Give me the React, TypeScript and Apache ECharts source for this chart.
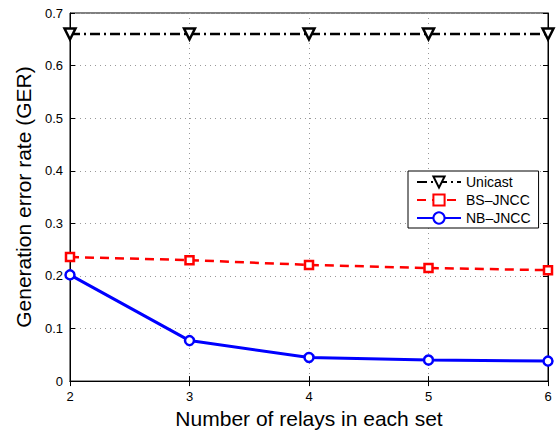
import React, { useEffect, useRef } from "react";
import * as echarts from "echarts";

const relays = [2, 3, 4, 5, 6];
const unicast = [0.66, 0.66, 0.66, 0.66, 0.66];
const bsJncc = [0.236, 0.23, 0.221, 0.215, 0.211];
const nbJncc = [0.202, 0.077, 0.045, 0.04, 0.038];

const FONT = "Liberation Sans, Arial, Helvetica, sans-serif";

export default function App() {
  const ref = useRef<HTMLDivElement>(null);
  useEffect(() => {
    if (!ref.current) return;
    const chart = echarts.init(ref.current, undefined, { renderer: "svg" });
    const pair = (ys: number[]) => relays.map((x, i) => [x, ys[i]]);
    const axisCommon = {
      axisLine: { show: true, lineStyle: { color: "#000", width: 1 } },
      axisTick: { show: true, inside: true, length: 5, lineStyle: { color: "#000" } },
    };
    chart.setOption({
      animation: false,
      backgroundColor: "#fff",
      textStyle: { fontFamily: FONT },
      grid: { left: 70, right: 10, top: 13, bottom: 49, show: true, borderColor: "#000", borderWidth: 1, backgroundColor: "#fff" },
      legend: {
        orient: "vertical",
        left: 408,
        top: 171,
        width: 130,
        backgroundColor: "#fff",
        borderColor: "#000",
        borderWidth: 1,
        borderRadius: 0,
        padding: [4, 8, 3, 8],
        itemWidth: 44,
        itemHeight: 14,
        itemGap: 4,
        textStyle: { fontFamily: FONT, fontSize: 14, color: "#000" },
        data: ["Unicast", "BS\u2013JNCC", "NB\u2013JNCC"],
      },
      xAxis: [
        {
          type: "value",
          min: 2,
          max: 6,
          interval: 1,
          name: "Number of relays in each set",
          nameLocation: "middle",
          nameGap: 22,
          nameTextStyle: { fontFamily: FONT, fontSize: 21, color: "#000" },
          ...axisCommon,
          axisLabel: { color: "#000", fontSize: 13, fontFamily: FONT, margin: 9 },
          splitLine: { show: true, lineStyle: { color: "#999", type: [1, 4], width: 1 } },
        },
        {
          type: "value",
          position: "top",
          min: 2,
          max: 6,
          interval: 1,
          ...axisCommon,
          axisLabel: { show: false },
          splitLine: { show: false },
        },
      ],
      yAxis: [
        {
          type: "value",
          min: 0,
          max: 0.7,
          interval: 0.1,
          name: "Generation error rate (GER)",
          nameLocation: "middle",
          nameGap: 35,
          nameTextStyle: { fontFamily: FONT, fontSize: 21, color: "#000" },
          ...axisCommon,
          axisLabel: { color: "#000", fontSize: 13, fontFamily: FONT, margin: 7 },
          splitLine: { show: true, lineStyle: { color: "#999", type: [1, 4], width: 1 } },
        },
        {
          type: "value",
          position: "right",
          min: 0,
          max: 0.7,
          interval: 0.1,
          ...axisCommon,
          axisLabel: { show: false },
          splitLine: { show: false },
        },
      ],
      series: [
        {
          name: "Unicast",
          type: "line",
          data: pair(unicast),
          symbol: "triangle",
          symbolRotate: 180,
          symbolSize: 11,
          lineStyle: { color: "#000", width: 2.5, type: [10, 4, 2, 4] },
          itemStyle: { color: "#fff", borderColor: "#000", borderWidth: 2.5 },
          z: 3,
        },
        {
          name: "BS\u2013JNCC",
          type: "line",
          data: pair(bsJncc),
          symbol: "rect",
          symbolSize: 8,
          lineStyle: { color: "#ff0000", width: 2.5, type: [9, 6] },
          itemStyle: { color: "#fff", borderColor: "#ff0000", borderWidth: 2.5 },
          z: 3,
        },
        {
          name: "NB\u2013JNCC",
          type: "line",
          data: pair(nbJncc),
          symbol: "circle",
          symbolSize: 9,
          lineStyle: { color: "#0000ff", width: 3 },
          itemStyle: { color: "#fff", borderColor: "#0000ff", borderWidth: 2.5 },
          z: 3,
        },
      ],
    });
    return () => chart.dispose();
  }, []);
  return <div ref={ref} style={{ width: 558, height: 434, position: "absolute", left: 0, top: 0 }} />;
}
